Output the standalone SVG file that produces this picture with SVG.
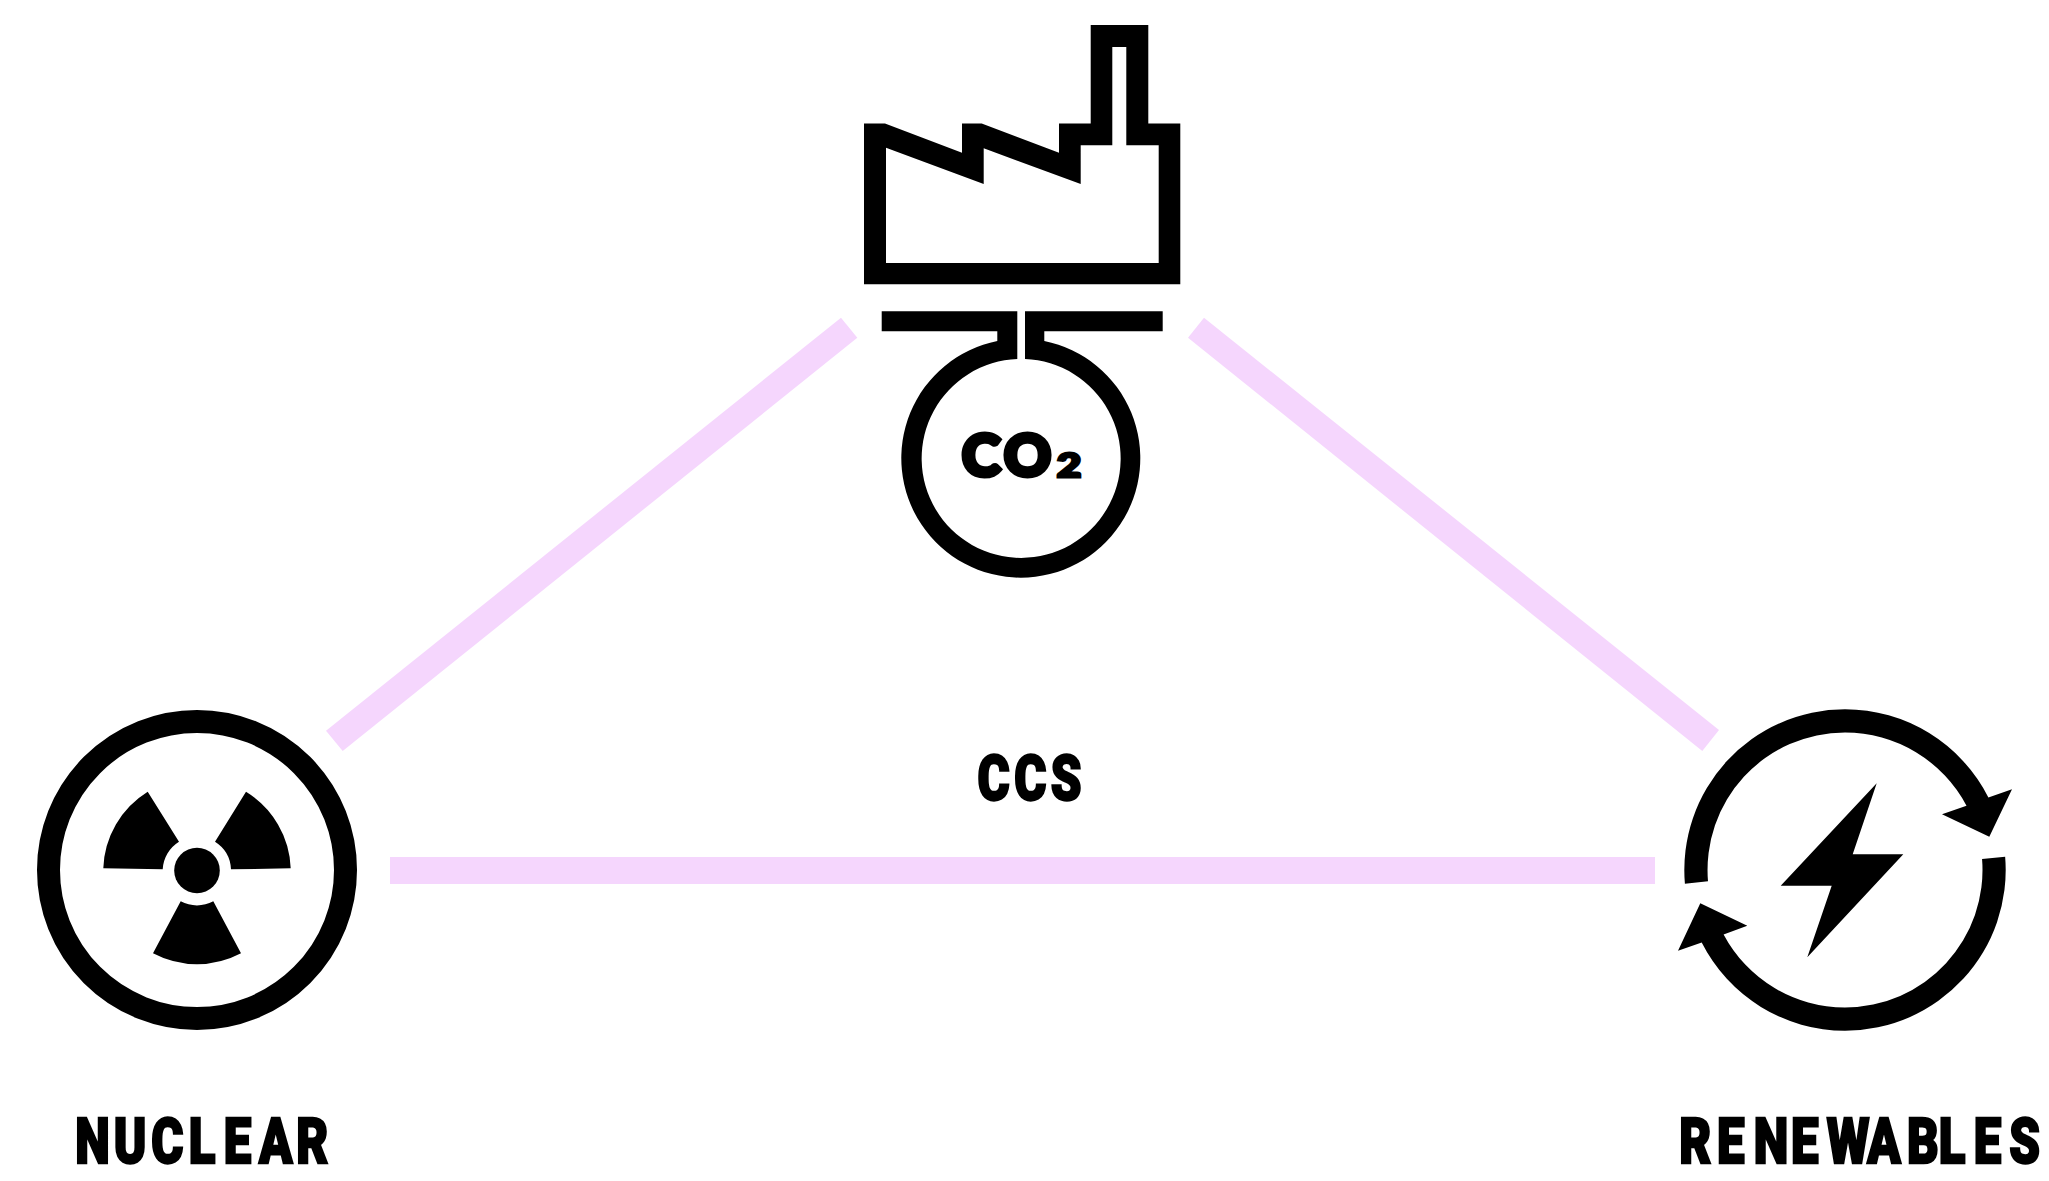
<svg xmlns="http://www.w3.org/2000/svg" width="2049" height="1181" viewBox="0 0 2049 1181">
<style>
.bar{fill:#f5d6fd}
.ink{fill:#000}
.ring{fill:none;stroke:#000}
.lbl{font-family:Roboto,"Liberation Sans",sans-serif;font-weight:900;font-size:63px;fill:#000;stroke:#000;stroke-width:2.4px}
.co{font-family:Lato,"Liberation Sans",sans-serif;font-weight:900;fill:#000;stroke:#000}
</style>
<rect width="2049" height="1181" fill="#fff"/>
<g id="connectors">
<polygon class="bar" points="841,317.7 857.3,337.7 342.7,751 326,730.7"/>
<polygon class="bar" points="1204,317.7 1188,337.7 1702.3,751 1719,730"/>
<rect class="bar" x="390" y="857" width="1265" height="27"/>
</g>
<g id="factory">
<path class="ink" fill-rule="evenodd" d="M864,123.5H885L962,152.7V123.5H981.7L1059,152.7V123.5H1090.7V25H1148.3V123.5H1180.3V284.3H864ZM886,147.7V263H1158.7V145.3H1126.3V47H1112.3V145.3H1080.7V184L983.7,148.3V184Z"/>
</g>
<g id="ccs-flask">
<path class="ink" d="M881.7,311.3H1017.3V359A99.5,99.5 0 1 0 1025,359V311.3H1162.7V331.3H1044.3V341A119.5,119.5 0 1 1 997.3,341V331.3H881.7Z"/>
<text class="co" font-size="58" stroke-width="5" transform="translate(962,475.5)">C</text>
<text class="co" font-size="58" stroke-width="5" transform="translate(1004,475.5)">O</text>
<text class="co" font-size="32" stroke-width="3" transform="translate(1057,477) scale(1.3,1)">2</text>
</g>
<g id="ccs-label">
<text class="lbl" transform="translate(977.5,800) scale(.78,1)" x="0 47 94">CCS</text>
</g>
<g id="nuclear">
<circle class="ring" cx="197" cy="870" r="148.5" stroke-width="23"/>
<circle class="ink" cx="197" cy="870.5" r="22.8"/>
<path class="ink" d="M147.7,791.7A93.7,93.7 0 0 0 103.3,868.3L162.7,869.3A34.5,34.5 0 0 1 179,841.7Z"/>
<path class="ink" d="M246,791.7A93.7,93.7 0 0 1 290.7,868.3L231,869.3A34.5,34.5 0 0 0 215,841.7Z"/>
<path class="ink" d="M153,953.3A94,94 0 0 0 241,953.3L213.3,901.3A34.5,34.5 0 0 1 180.7,901.3Z"/>
<text class="lbl" transform="translate(75.3,1162.5) scale(.78,1)" x="0 49.2 97.3 145.4 190.3 235.5 283.3">NUCLEAR</text>
</g>
<g id="renewables">
<path class="ink" d="M1684.9,883.7A160.7,160.7 0 0 1 1845,709.3A160.7,160.7 0 0 1 1988.4,797.45L2012,789.3L1989.3,836.7L1942,814.3L1966.5,805.7A137.5,137.5 0 0 0 1845,732.5A137.5,137.5 0 0 0 1708,881.3Z"/>
<path class="ink" d="M2005.15,856.66A160.7,160.7 0 0 1 1845,1030.7A160.7,160.7 0 0 1 1701.7,942.6L1678,950.7L1700.3,903.3L1747.3,925.7L1723.6,934.5A137.5,137.5 0 0 0 1845,1007.5A137.5,137.5 0 0 0 1982.06,859Z"/>
<polygon class="ink" points="1876.7,783.3 1852.7,854.3 1903.3,854.3 1807.3,957.3 1831.7,885.7 1780.7,885.7"/>
<text class="lbl" transform="translate(1679.3,1162.5) scale(.78,1)" x="0 48.4 95.4 143.2 189 241 292 332.6 377.4 423">RENEWABLES</text>
</g>
</svg>
